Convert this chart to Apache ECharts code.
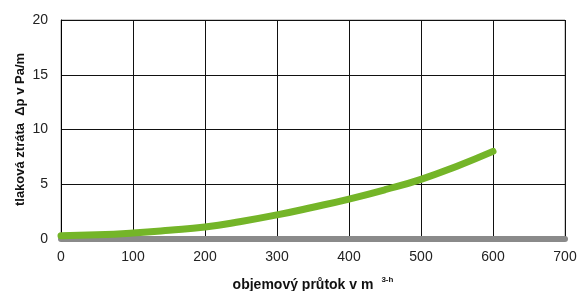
<!DOCTYPE html>
<html><head><meta charset="utf-8">
<script src="https://cdn.jsdelivr.net/npm/echarts@6/dist/echarts.min.js"></script>
<style>html,body{margin:0;padding:0;background:#fff}#c{width:578px;height:291px}</style>
</head><body><div id="c"></div>
<script>
const flowX = [0, 50, 100, 150, 200, 250, 300, 350, 400, 450, 500, 550, 600];
const pressureY = [0.3, 0.38, 0.55, 0.8, 1.1, 1.6, 2.2, 2.9, 3.65, 4.5, 5.45, 6.65, 8.0];
const xTicks = [0, 100, 200, 300, 400, 500, 600, 700];
const yTicks = [0, 5, 10, 15, 20];
const xTitle = 'objemový průtok v m';
const xTitleSup = '3-h';
const yTitle = 'tlaková ztráta  Δp v Pa/m';

const chart = echarts.init(document.getElementById('c'));
const font = '"Liberation Sans", Arial, sans-serif';
chart.setOption({
  animation: false,
  grid: {left: 61, right: 13, top: 20, bottom: 52, show: true, borderColor: '#999', borderWidth: 1, outerBoundsMode: 'none', containLabel: false},
  xAxis: {
    type: 'value', min: xTicks[0], max: xTicks[xTicks.length-1], interval: 100,
    axisLine: {show: true, lineStyle: {color: '#8a8a8a', width: 6}},
    axisTick: {show: false},
    splitLine: {show: true, lineStyle: {color: '#111', width: 1}},
    axisLabel: {color: '#222', fontSize: 14, fontFamily: font, margin: 11},
    name: '{a|' + xTitle + '}{s|' + xTitleSup + '}',
    nameLocation: 'middle', nameGap: 37, nameMoveOverlap: false,
    nameTextStyle: {rich: {
      a: {fontSize: 14, fontWeight: 'bold', fontFamily: font, color: '#111'},
      s: {fontSize: 8, fontWeight: 'bold', fontFamily: font, color: '#111', verticalAlign: 'top', padding: [0,0,10,8]}
    }}
  },
  yAxis: {
    type: 'value', min: yTicks[0], max: yTicks[yTicks.length-1], interval: 5,
    axisLine: {show: true, lineStyle: {color: '#000', width: 1}},
    axisTick: {show: false},
    splitLine: {show: true, lineStyle: {color: '#111', width: 1}},
    axisLabel: {color: '#222', fontSize: 14, fontFamily: font, margin: 13},
    name: yTitle, nameLocation: 'middle', nameGap: 34, nameRotate: 90, nameMoveOverlap: false,
    nameTextStyle: {fontSize: 13, fontWeight: 'bold', fontFamily: font, color: '#111'}
  },
  series: [{
    type: 'line', smooth: true, symbol: 'none', z: 5, clip: true,
    data: flowX.map((x, i) => [x, pressureY[i]]),
    lineStyle: {color: '#74b528', width: 7, cap: 'round'}
  }]
});
</script></body></html>
